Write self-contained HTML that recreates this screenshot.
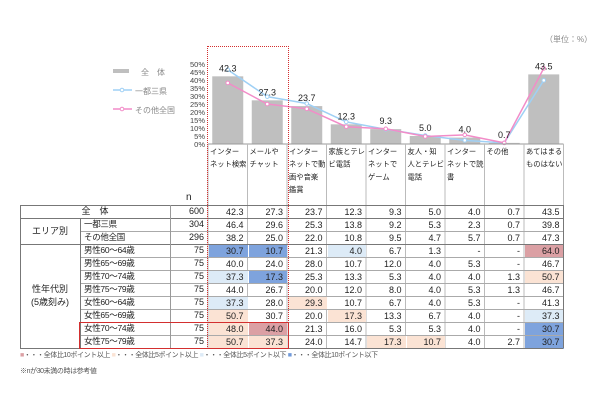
<!DOCTYPE html>
<html><head><meta charset="utf-8"><style>
body{margin:0;width:600px;height:400px;background:#fff;position:relative;overflow:hidden;font-family:"Liberation Sans","Noto Sans CJK JP",sans-serif;color:#222}
.a{position:absolute;box-sizing:border-box}
.t{font-size:9px;line-height:13px;white-space:nowrap}
</style></head><body>
<div class="a t" style="left:545px;top:33px;color:#888;font-size:8px">（単位：%）</div>
<svg id="chart" class="a" style="left:0;top:0" width="600" height="400"></svg>
<div id="tbl"></div>
<div class="a t" style="left:20px;top:349px;font-size:7px;letter-spacing:-0.4px;color:#555"><span style="color:#dba0a4">■</span>・・・全体比10ポイント以上 <span style="color:#fbe3d4">■</span>・・・全体比5ポイント以上 <span style="color:#ddebf7">■</span>・・・全体比5ポイント以下 <span style="color:#7199d9">■</span>・・・全体比10ポイント以下</div>
<div class="a t" style="left:20px;top:365px;font-size:7px;letter-spacing:-0.4px;color:#555">※nが30未満の時は参考値</div>
<script>
const categories=["インター|ネット検索","メールや|チャット","インター|ネットで動|画や音楽|鑑賞","家族とテレ|ビ電話","インター|ネットで|ゲーム","友人・知|人とテレビ|電話","インター|ネットで読|書","その他","あてはまる|ものはない"];
const totalValues=[42.3,27.3,23.7,12.3,9.3,5.0,4.0,0.7,43.5];
const metroValues=[46.4,29.6,25.3,13.8,9.2,5.3,2.3,0.7,39.8];
const otherValues=[38.2,25.0,22.0,10.8,9.5,4.7,5.7,0.7,47.3];
const yTicks=[0,5,10,15,20,25,30,35,40,45,50];
const rowLabels=["男性60～64歳","男性65～69歳","男性70～74歳","男性75～79歳","女性60～64歳","女性65～69歳","女性70～74歳","女性75～79歳"];
const rowN=[75,75,75,75,75,75,75,75];
const rowValues=[
[30.7,10.7,21.3,4.0,6.7,1.3,null,null,64.0],
[40.0,24.0,28.0,10.7,12.0,4.0,5.3,null,46.7],
[37.3,17.3,25.3,13.3,5.3,4.0,4.0,1.3,50.7],
[44.0,26.7,20.0,12.0,8.0,4.0,5.3,1.3,46.7],
[37.3,28.0,29.3,10.7,6.7,4.0,5.3,null,41.3],
[50.7,30.7,20.0,17.3,13.3,6.7,4.0,null,37.3],
[48.0,44.0,21.3,16.0,5.3,5.3,4.0,null,30.7],
[50.7,37.3,24.0,14.7,17.3,10.7,4.0,2.7,30.7]];
const NS="http://www.w3.org/2000/svg";
const svg=document.getElementById('chart');
const X0=208,CW=39.5,Y0=144,PX=1.6;
const xc=i=>X0+CW*i+CW/2, y=v=>Y0-v*PX;
function el(t,a){const e=document.createElementNS(NS,t);for(const k in a)e.setAttribute(k,a[k]);svg.appendChild(e);return e;}
yTicks.forEach(v=>{const e=el('text',{x:205,y:y(v)+3,'text-anchor':'end','font-size':7.5,fill:'#444'});e.textContent=v+'%';
});
totalValues.forEach((v,i)=>{const r=el('rect',{x:xc(i)-15.5,y:y(v),width:31,height:v*PX,fill:'#bfbfbf'});
});
[[metroValues,'#9fd0f5','line-metro'],[otherValues,'#f28cc8','line-other']].forEach(([arr,c,n])=>{
const p=el('polyline',{points:arr.map((v,i)=>xc(i)+','+y(v)).join(' '),fill:'none',stroke:c,'stroke-width':1.5});

arr.forEach((v,i)=>{const m=el('circle',{cx:xc(i),cy:y(v),r:1.8,fill:'#fff',stroke:c,'stroke-width':1});
});});
totalValues.forEach((v,i)=>{const t=el('text',{x:xc(i),y:y(v)-5,'text-anchor':'middle','font-size':9,fill:'#222'});t.textContent=v.toFixed(1);
});
// legend
el('rect',{x:113,y:69,width:16,height:4,fill:'#bfbfbf'});
[['全　体',72,141],['一都三県',91,135],['その他全国',110,135]].forEach(([s,yy,xx])=>{const t=el('text',{x:xx,y:yy+3,'font-size':8,fill:'#888'});t.textContent=s;
});
el('line',{x1:113,y1:90,x2:132,y2:90,stroke:'#9fd0f5','stroke-width':1.5});el('circle',{cx:122,cy:90,r:1.8,fill:'#fff',stroke:'#9fd0f5'});
el('line',{x1:113,y1:109,x2:132,y2:109,stroke:'#f28cc8','stroke-width':1.5});el('circle',{cx:122,cy:109,r:1.8,fill:'#fff',stroke:'#f28cc8'});
// header grid
el('line',{x1:X0,y1:144,x2:X0+CW*9,y2:144,stroke:'#999'});
for(let i=0;i<=9;i++)el('line',{x1:X0+CW*i,y1:144,x2:X0+CW*i,y2:348,stroke:'#bbb'});
categories.forEach((c,i)=>c.split('|').forEach((s,j)=>{const t=el('text',{x:X0+CW*i+2,y:154+j*12.7,'font-size':7.3,fill:'#222'});t.textContent=s;
}));
const nn=el('text',{x:186,y:200,'font-size':10,fill:'#222'});nn.textContent='n';
// table
const tb=document.getElementById('tbl');const RH=13,T0=205;
function cell(x,y0,w,txt,align,bg,name){const d=document.createElement('div');d.className='a t';
d.style.cssText=`left:${x}px;top:${y0}px;width:${w}px;height:${RH}px;text-align:${align};padding:0 4px;background:${bg||'transparent'}`;
d.textContent=txt;tb.appendChild(d);return d;}
const RED='#dba0a4',OR='#fbe3d4',LB='#ddebf7',BL='#7ea3dd';
function color(v,base){if(v==null)return null;const d=v-base;return d>=10?RED:d>=5?OR:d<=-10?BL:d<=-5?LB:null;}
const allRows=[["全　体",600,totalValues],["一都三県",304,metroValues],["その他全国",296,otherValues]].concat(rowLabels.map((l,i)=>[l,rowN[i],rowValues[i]]));
allRows.forEach((r,ri)=>{const yy=T0+ri*RH;
if(ri==0)cell(20,yy,150,r[0],'center',null,'row-label');else {const c=cell(80,yy,90,r[0],'left',null,'row-label');c.style.fontSize='8.5px';c.style.letterSpacing='-0.3px';}
cell(170,yy,38,r[1],'right',null,'n-value');
r[2].forEach((v,i)=>cell(X0+CW*i+1,yy+0.5,CW-1,v==null?'-':v.toFixed(1),'right',ri>=3?color(v,totalValues[i]):null,'table-value'));
const major=(ri==0||ri==1||ri==3);
const ln=document.createElement('div');ln.className='a';ln.style.cssText=`left:${major?20:80}px;top:${yy}px;width:${major?543:483}px;height:1px;background:${major?'#777':'#aaa'}`;
tb.appendChild(ln);});
const bl=document.createElement('div');bl.className='a';bl.style.cssText='left:20px;top:348px;width:543px;height:1px;background:#777';tb.appendChild(bl);
cell(20,224.5,60,'エリア別','center',null,'group-label');
cell(20,283,60,'性年代別','center',null,'group-label');cell(20,296,60,'(5歳刻み)','center',null,'group-label');
[[20,205,1,143,'#777'],[80,218,1,130,'#777'],[170,205,1,143,'#999'],[563,205,1,143,'#777']].forEach(a=>{const d=document.createElement('div');d.className='a';
d.style.cssText=`left:${a[0]}px;top:${a[1]}px;width:${a[2]}px;height:${a[3]}px;background:${a[4]}`;tb.appendChild(d);});
const b1=document.createElement('div');b1.className='a';b1.style.cssText='left:207px;top:46px;width:82px;height:303px;border:1.5px dotted #d32f2f';
tb.appendChild(b1);
const b2=document.createElement('div');b2.className='a';b2.style.cssText='left:79px;top:322px;width:210px;height:27px;border:1.5px solid #d32f2f';
tb.appendChild(b2);
</script>
</body></html>
